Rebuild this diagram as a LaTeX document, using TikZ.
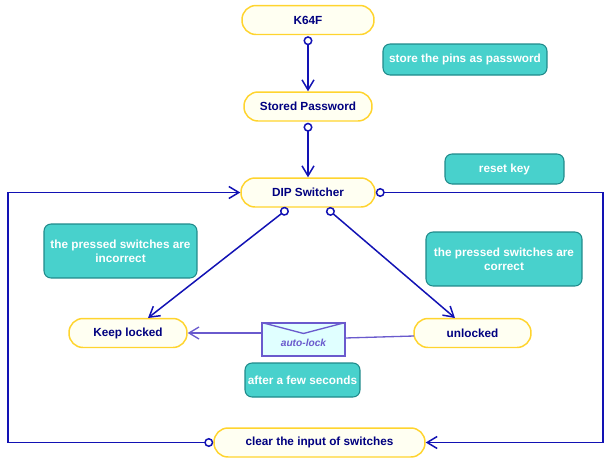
\documentclass[tikz,border=0pt]{standalone}
\usepackage{fontspec}
\setmainfont{Liberation Sans}
\usetikzlibrary{arrows.meta, calc}

\definecolor{flowblue}{HTML}{1212B4}
\definecolor{lockline}{HTML}{6A5ACD}
\definecolor{stateedge}{HTML}{FFD42E}
\definecolor{statefill}{HTML}{FFFFF2}
\definecolor{statetext}{HTML}{000080}
\definecolor{noteedge}{HTML}{1F8A8A}
\definecolor{notefill}{HTML}{48D1CC}
\definecolor{mailfill}{HTML}{E0FFFF}

\tikzset{
    state/.style = {draw = stateedge, fill = statefill, text = statetext, line width = 0.85pt,
        rounded corners = 0.28cm, inner sep = 0pt, font = \fontsize{6.7}{8}\selectfont\bfseries,
        minimum height = 0.58cm},
    note/.style = {draw = noteedge, fill = notefill, text = white, line width = 0.6pt,
        rounded corners = 0.14cm, inner sep = 0pt, align = center,
        font = \fontsize{6.7}{8.2}\selectfont\bfseries},
    flow/.style = {{Circle[open, fill = white, length = 0.18cm, width = 0.18cm]}-{Straight Barb[length = 0.2cm, width = 0.24cm]},
        draw = flowblue, line width = 0.85pt},
    lockflow/.style = {draw = lockline, line width = 0.75pt},
}

\begin{document}
\begin{tikzpicture}[x = 0.02cm, y = -0.02cm]
    \useasboundingbox (0, 0) rectangle (610, 464);

    % states
    \node[state, minimum width = 2.64cm] (k64f) at (308, 20) {K64F};
    \node[state, minimum width = 2.56cm] (stored) at (308, 106.5) {Stored Password};
    \node[state, minimum width = 2.68cm] (dip) at (308, 192.5) {DIP Switcher};
    \node[state, minimum width = 2.36cm] (keep) at (128, 333) {Keep locked};
    \node[state, minimum width = 2.34cm] (unlocked) at (472.5, 333) {unlocked};
    \node[state, minimum width = 4.22cm] (clear) at (319.5, 442.5) {clear the input of switches};

    % notes
    \node[note, minimum width = 3.28cm, minimum height = 0.62cm] (storenote) at (465, 59.5) {store the pins as password};
    \node[note, minimum width = 2.38cm, minimum height = 0.6cm] (resetnote) at (504.5, 169) {reset key};
    \node[note, minimum width = 3.06cm, minimum height = 1.08cm] (wrongnote) at (120.5, 251) {the pressed switches are\\incorrect};
    \node[note, minimum width = 3.12cm, minimum height = 1.08cm] (rightnote) at (504, 259) {the pressed switches are\\correct};
    \node[note, minimum width = 2.3cm, minimum height = 0.68cm] (waitnote) at (302.5, 380) {after a few seconds};

    % envelope
    \node[draw = lockline, fill = mailfill, line width = 0.6pt, minimum width = 1.66cm, minimum height = 0.66cm, inner sep = 0pt] (mail) at (303.5, 339.5) {};
    \draw[lockflow] (mail.north west) -- ($(mail.north) + (0, 11)$) -- (mail.north east);
    \node[text = lockline, font = \fontsize{5.8}{7}\selectfont\bfseries\itshape, inner sep = 0pt] (maillabel) at (303.5, 342.5) {auto-lock};

    % connectors
    \foreach \from/\to in {k64f/stored, stored/dip} {
        \draw[flow, shorten <= 1*0.02cm] (\from) -- (\to);
    }

    \coordinate (dipwrong) at (288, 208.5);
    \coordinate (dipright) at (327, 208.5);
    \coordinate (keepin) at (148, 318);
    \coordinate (unlockedin) at (455, 318);
    \draw[flow] (dipwrong) -- (keepin);
    \draw[flow] (dipright) -- (unlockedin);

    \coordinate (rightbus) at (603, 0);
    \coordinate (leftbus) at (8, 0);
    \draw[flow] (dip.east) -- (rightbus |- dip) -- (rightbus |- clear) -- (clear.east);
    \draw[flow] (clear.west) -- (leftbus |- clear) -- (leftbus |- dip) -- (dip.west);

    \coordinate (unlockedout) at (414, 336);
    \coordinate (mailin) at (345, 338);
    \draw[lockflow] (unlockedout) -- (mailin);
    \draw[lockflow, -{Straight Barb[length = 0.2cm, width = 0.24cm]}] (mail.west |- keep) -- (keep.east);
\end{tikzpicture}
\end{document}
